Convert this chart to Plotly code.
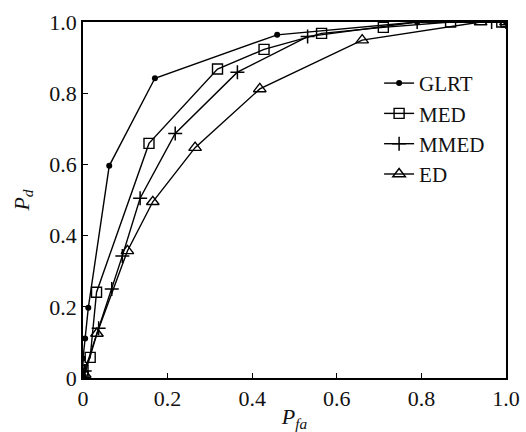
import plotly.graph_objects as go

# ROC curves: probability of detection vs probability of false alarm
glrt_pfa = [0.0, 0.0, 0.005, 0.0125, 0.062, 0.17, 0.459, 0.79, 1.0]
glrt_pd = [0.0, 0.055, 0.111, 0.197, 0.596, 0.842, 0.964, 1.0, 1.0]

med_pfa = [0.0, 0.0, 0.017, 0.032, 0.156, 0.318, 0.428, 0.564, 0.71, 0.869, 0.99, 1.0]
med_pd = [0.004, 0.022, 0.058, 0.241, 0.659, 0.868, 0.923, 0.968, 0.985, 1.0, 1.0, 1.0]

mmed_pfa = [0.0, 0.004, 0.037, 0.068, 0.093, 0.135, 0.218, 0.365, 0.531, 0.79, 0.966, 1.0]
mmed_pd = [0.0, 0.02, 0.14, 0.25, 0.343, 0.505, 0.687, 0.859, 0.959, 1.0, 1.0, 1.0]

ed_pfa = [0.0, 0.004, 0.033, 0.105, 0.165, 0.265, 0.418, 0.66, 0.94, 1.0]
ed_pd = [0.0, 0.01, 0.125, 0.357, 0.495, 0.647, 0.812, 0.949, 1.0, 1.0]

tick_vals = [0, 0.2, 0.4, 0.6, 0.8, 1.0]
tick_text = ["0", "0.2", "0.4", "0.6", "0.8", "1.0"]

FONT = "Liberation Serif"
LINE = dict(color="black", width=1.4)

fig = go.Figure()
fig.add_trace(go.Scatter(
    x=glrt_pfa, y=glrt_pd, name="GLRT", mode="lines+markers", line=LINE,
    marker=dict(symbol="circle", size=6, color="black")))
fig.add_trace(go.Scatter(
    x=med_pfa, y=med_pd, name="MED", mode="lines+markers", line=LINE,
    marker=dict(symbol="square-open", size=10, color="black",
                line=dict(color="black", width=1.4))))
fig.add_trace(go.Scatter(
    x=mmed_pfa, y=mmed_pd, name="MMED", mode="lines+markers", line=LINE,
    marker=dict(symbol="cross-thin", size=10, color="black",
                line=dict(color="black", width=1.5))))
fig.add_trace(go.Scatter(
    x=ed_pfa, y=ed_pd, name="ED", mode="lines+markers", line=LINE,
    marker=dict(symbol="triangle-up-open", size=11, color="black",
                line=dict(color="black", width=1.4))))

axis_common = dict(
    range=[0, 1.0], tickvals=tick_vals, ticktext=tick_text,
    ticks="inside", ticklen=5, tickcolor="black", tickwidth=1,
    showline=True, linecolor="black", linewidth=1.5, mirror=True,
    showgrid=False, zeroline=False, automargin=False,
    tickfont=dict(family=FONT, size=22, color="#111"),
)

fig.update_layout(
    width=526, height=432,
    margin=dict(l=83, r=20, t=22, b=54),
    paper_bgcolor="white", plot_bgcolor="white",
    font=dict(family=FONT, color="#111"),
    xaxis=dict(**axis_common,
               title=dict(text="<i>P</i><sub><i>fa</i></sub>",
                          font=dict(family=FONT, size=22), standoff=8)),
    yaxis=dict(**axis_common,
               title=dict(text="<i>P</i><sub><i>d</i></sub>",
                          font=dict(family=FONT, size=22), standoff=14)),
    legend=dict(x=0.70, y=0.885, xanchor="left", yanchor="top",
                bgcolor="rgba(0,0,0,0)", borderwidth=0,
                font=dict(family=FONT, size=21, color="#111"),
                itemwidth=30, tracegroupgap=0),
    showlegend=True,
)

fig.write_html("out.html")
